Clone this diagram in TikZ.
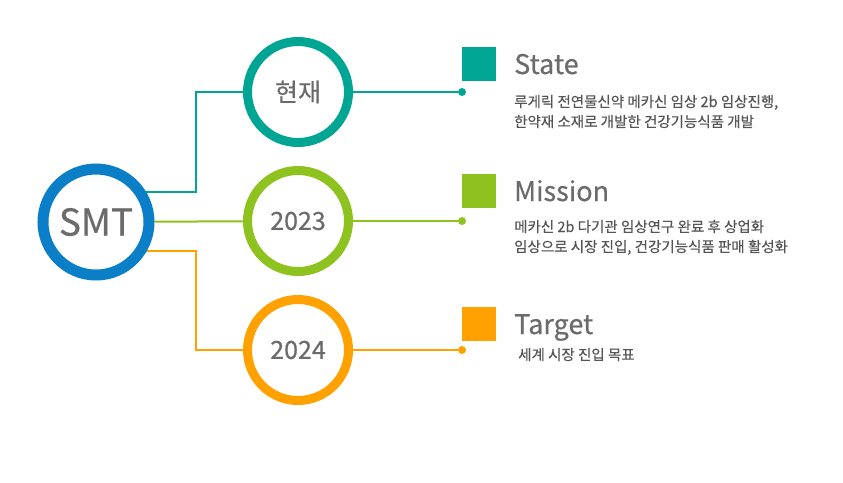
\documentclass[tikz,border=0pt]{standalone}
\usepackage{fontspec}
\setmainfont{Noto Sans CJK KR}
\newfontfamily\descfont[FakeBold=0.4]{Noto Sans CJK KR}
\newfontfamily\headfont[FakeBold=0.5]{Noto Sans CJK KR}
\usetikzlibrary{positioning}
\usetikzlibrary{backgrounds}
\definecolor{smtblue}{HTML}{0A7FC7}
\definecolor{stateteal}{HTML}{00A594}
\definecolor{missiongreen}{HTML}{8DC21F}
\definecolor{targetorange}{HTML}{FFA100}
\definecolor{labelgray}{HTML}{6B6B6B}
\definecolor{descgray}{HTML}{555555}

\begin{document}
\begin{tikzpicture}[x=1pt, y=-1pt,
  ring/.style={circle, draw=#1, line width=9pt, fill=white, minimum size=101pt, inner sep=0pt, text=labelgray, font=\headfont\fontsize{25}{25}\selectfont},
  link/.style={draw=#1, line width=2pt},
  tip/.style={circle, fill=#1, inner sep=0pt, minimum size=8pt},
  badge/.style={rectangle, fill=#1, inner sep=0pt, minimum size=34pt},
  heading/.style={anchor=base west, text=labelgray, font=\headfont\fontsize{27}{27}\selectfont, inner sep=0pt},
  detail/.style={anchor=base west, align=left, text=descgray, font=\descfont\fontsize{14.5}{20}\selectfont, inner sep=0pt}]
\useasboundingbox (0,0) rectangle (843,482);

% First, define nodes
\draw (96,222) node[ring=smtblue, line width=11pt, minimum size=106pt, font=\headfont\fontsize{37}{37}\selectfont] (smt) {SMT};
\draw (298,92) node[ring=stateteal] (now) {현재};
\draw (298,221) node[ring=missiongreen] (y2023) {2023};
\draw (298,350) node[ring=targetorange] (y2024) {2024};

\draw (462,92) node[tip=stateteal] (nowtip) {};
\draw (462,221) node[tip=missiongreen] (y2023tip) {};
\draw (462,350) node[tip=targetorange] (y2024tip) {};

\coordinate (nowbend) at (196,92);
\coordinate (y2024bend) at (196,350);

% Squares, headings and their texts (base of a text is its last line)
\draw (479,64) node[badge=stateteal] (statebox) {};
\draw (514,74) node[heading] (statehead) {State};
\draw (514,127) node[detail] (statetext) {루게릭 전연물신약 메카신 임상 2b 임상진행,\\한약재 소재로 개발한 건강기능식품 개발};

\draw (479,191) node[badge=missiongreen] (missionbox) {};
\draw (514,201) node[heading] (missionhead) {Mission};
\draw (514,252) node[detail] (missiontext) {메카신 2b 다기관 임상연구 완료 후 상업화\\임상으로 시장 진입, 건강기능식품 판매 활성화};

\draw (479,324) node[badge=targetorange] (targetbox) {};
\draw (514,334) node[heading] (targethead) {Target};
\draw (518,360) node[detail] (targettext) {세계 시장 진입 목표};

% Then the connectors, behind the rings
\begin{scope}[on background layer]
\draw[link=stateteal] ([yshift=30pt]smt.center) -| (nowbend) -- (now);
\draw[link=missiongreen] (smt) -- (y2023);
\draw[link=targetorange] ([yshift=-29pt]smt.center) -| (y2024bend) -- (y2024);

\draw[link=stateteal] (now) -- (nowtip);
\draw[link=missiongreen] (y2023) -- (y2023tip);
\draw[link=targetorange] (y2024) -- (y2024tip);
\end{scope}
\end{tikzpicture}
\end{document}
